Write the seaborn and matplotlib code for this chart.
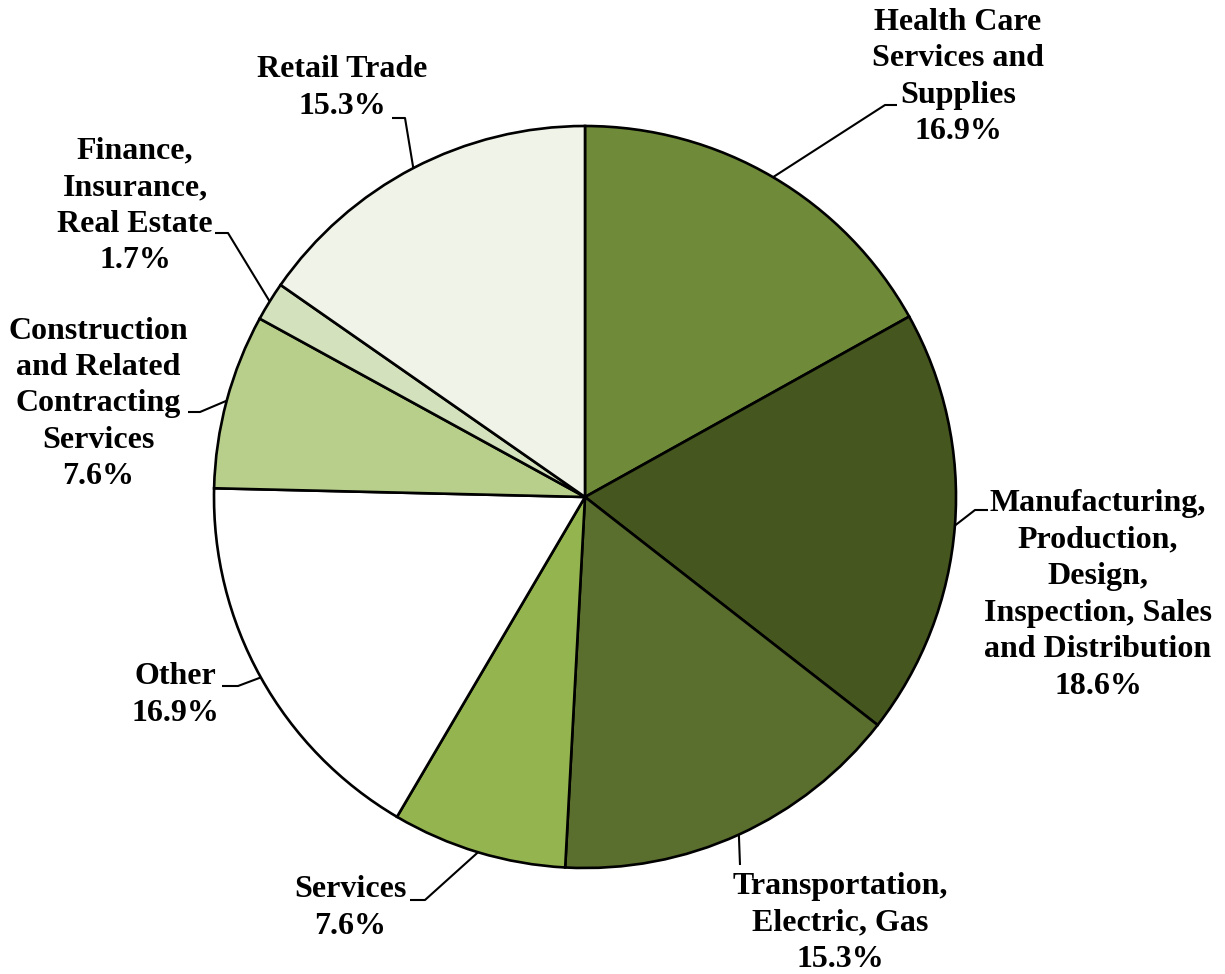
import numpy as np
import matplotlib
matplotlib.use("Agg")
import matplotlib.pyplot as plt
import seaborn as sns

# Data (clockwise from 12 o'clock)
categories = [
    "Health Care\nServices and\nSupplies",
    "Manufacturing,\nProduction,\nDesign,\nInspection, Sales\nand Distribution",
    "Transportation,\nElectric, Gas",
    "Services",
    "Other",
    "Construction\nand Related\nContracting\nServices",
    "Finance,\nInsurance,\nReal Estate",
    "Retail Trade",
]
shares = [16.9, 18.6, 15.3, 7.6, 16.9, 7.6, 1.7, 15.3]
colors = ["#6F8B3A", "#46561F", "#5A6E2E", "#94B44F",
          "#FFFFFF", "#B7CF8B", "#D3E1BC", "#F0F4E8"]

# label text centre (x, y in image px), elbow and stub end of leader lines
label_pos = [(958, 77), (1098, 595), (840, 923), (350, 908),
             (175, 695), (98, 404), (135, 206), (342, 88)]
elbows = [(885, 105), (975, 510), (740, 865), (425, 900),
          (238, 686), (200, 412), (228, 233), (405, 118)]
stubs = [(897, 105), (988, 510), (740, 865), (410, 900),
         (222, 686), (188, 412), (215, 233), (392, 118)]

sns.set_theme(style="white")
plt.rcParams["font.family"] = ["Liberation Serif", "DejaVu Serif"]

W, H = 1225, 974
fig = plt.figure(figsize=(W / 100, H / 100), dpi=100)
ax = fig.add_axes([0, 0, 1, 1])
ax.axis("off")

cx, cy, r = 585, H - 497, 371
wedges, _ = ax.pie(shares, colors=colors, startangle=90, counterclock=False,
                   center=(cx, cy), radius=r, normalize=True,
                   wedgeprops=dict(edgecolor="black", linewidth=1.9))
ax.set_xlim(0, W)
ax.set_ylim(0, H)
ax.set_aspect("equal")

for w, name, val, lp, el, st in zip(wedges, categories, shares, label_pos, elbows, stubs):
    mid = np.deg2rad((w.theta1 + w.theta2) / 2)
    ex, ey = cx + r * np.cos(mid), cy + r * np.sin(mid)
    ax.plot([ex, el[0], st[0]], [ey, H - el[1], H - st[1]],
            color="black", lw=1.5, solid_capstyle="butt")
    ax.text(lp[0], H - lp[1], f"{name}\n{val:.1f}%", ha="center", va="center",
            fontsize=23, fontweight="bold", linespacing=1.34, color="black")

fig.savefig("out.png", dpi=100)
